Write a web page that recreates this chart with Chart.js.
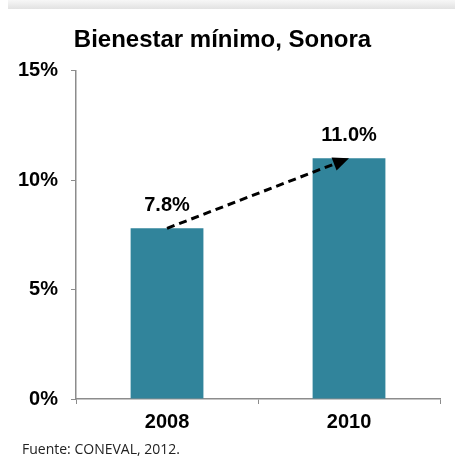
<!DOCTYPE html>
<html>
<head>
<meta charset="utf-8">
<script src="https://cdn.jsdelivr.net/npm/chart.js@4"></script>
<style>
  body { margin: 0; background: #fff; }
  #wrap { position: relative; width: 455px; height: 459px; }
  #shade { position: absolute; left: 8px; top: 0; width: 447px; height: 9px;
           background: linear-gradient(to bottom, #f7f7f7, #e2e2e2); }
  #chart1 { position: absolute; left: 0; top: 0; }
  #fuente { position: absolute; left: 22px; top: 439px; font-family: "Open Sans", sans-serif;
            font-size: 14px; color: #222; }
</style>
</head>
<body>
<div id="wrap">
  <div id="shade"></div>
  <canvas id="chart1" width="455" height="440"></canvas>
  <div id="fuente">Fuente: CONEVAL, 2012.</div>
</div>
<script>
const years = ['2008', '2010'];
const values = [0.078, 0.110];
const yTicks = [0, 0.05, 0.10, 0.15];

const chart1 = document.getElementById('chart1');
const axisColor = '#8c8c8c';

// dashed arrow between bar tops + value labels
const extras = {
  id: 'extras',
  afterDatasetsDraw(chart) {
    const ctx = chart.ctx;
    const x = chart.scales.x, y = chart.scales.y;
    const x1 = x.getPixelForValue(0), y1 = y.getPixelForValue(values[0]);
    const x2 = x.getPixelForValue(1), y2 = y.getPixelForValue(values[1]);
    const ang = Math.atan2(y2 - y1, x2 - x1);
    const headLen = 16;
    const bx = x2 - headLen * Math.cos(ang), by = y2 - headLen * Math.sin(ang);
    ctx.save();
    ctx.strokeStyle = '#000';
    ctx.lineWidth = 3;
    ctx.setLineDash([8, 5]);
    ctx.beginPath();
    ctx.moveTo(x1, y1);
    ctx.lineTo(bx, by);
    ctx.stroke();
    ctx.setLineDash([]);
    ctx.fillStyle = '#000';
    ctx.beginPath();
    ctx.moveTo(x2, y2);
    ctx.lineTo(bx + 7 * Math.sin(ang), by - 7 * Math.cos(ang));
    ctx.lineTo(bx - 7 * Math.sin(ang), by + 7 * Math.cos(ang));
    ctx.closePath();
    ctx.fill();
    // value labels
    ctx.font = 'bold 20px "Liberation Sans", Arial, sans-serif';
    ctx.textAlign = 'center';
    ctx.textBaseline = 'alphabetic';
    values.forEach((v, i) => {
      ctx.fillText((v * 100).toFixed(1) + '%', x.getPixelForValue(i), y.getPixelForValue(v) - 17);
    });
    ctx.restore();
  }
};

new Chart(chart1, {
  type: 'bar',
  data: {
    labels: years,
    datasets: [{
      data: values,
      backgroundColor: '#31849b',
      barPercentage: 0.4,
      categoryPercentage: 1
    }]
  },
  options: {
    responsive: false,
    animation: false,
    layout: { padding: { left: 5, right: 15, top: 20, bottom: 0 } },
    plugins: {
      legend: { display: false },
      tooltip: { enabled: false },
      title: {
        display: true,
        text: 'Bienestar mínimo, Sonora',
        color: '#000',
        font: { family: '"Liberation Sans", Arial, sans-serif', size: 24, weight: 'bold' },
        padding: { top: 6, bottom: 16 }
      }
    },
    scales: {
      x: {
        grid: { display: true, drawOnChartArea: false, drawTicks: true, tickLength: 5, color: axisColor },
        border: { display: true, color: axisColor, width: 1.5 },
        ticks: {
          color: '#000',
          padding: 6,
          font: { family: '"Liberation Sans", Arial, sans-serif', size: 20, weight: 'bold' }
        }
      },
      y: {
        min: 0,
        max: 0.15,
        afterBuildTicks(scale) { scale.ticks = yTicks.map(v => ({ value: v })); },
        grid: { display: true, drawOnChartArea: false, drawTicks: true, tickLength: 5, color: axisColor },
        border: { display: true, color: axisColor, width: 1.5 },
        ticks: {
          color: '#000',
          padding: 13,
          callback: v => Math.round(v * 100) + '%',
          font: { family: '"Liberation Sans", Arial, sans-serif', size: 20, weight: 'bold' }
        }
      }
    }
  },
  plugins: [extras]
});
</script>
</body>
</html>
